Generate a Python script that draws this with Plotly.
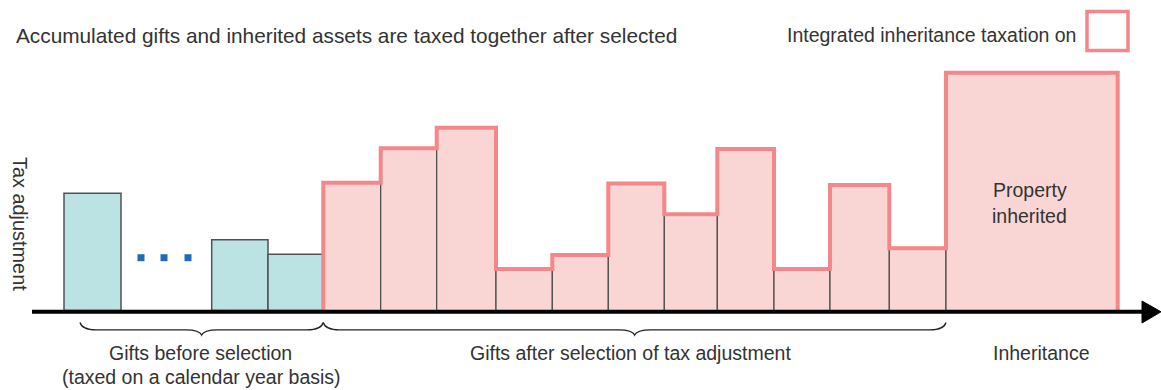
import plotly.graph_objects as go

# ---------------- data ----------------
# gifts before selection (calendar-year taxation)
pre_left = [64, 211.7, 268]
pre_right = [121, 268, 323.3]
pre_values = [117.2, 70.8, 56.2]

# gifts after selection of tax adjustment
post_edges = [323.3, 380.7, 436.7, 496, 552.3, 608.3, 664.3, 717.3, 774, 830, 889.3, 946]
post_values = [127.8, 162.2, 182.8, 41.5, 55.5, 127.0, 96.2, 161.5, 41.5, 125.5, 62.2]

# inheritance
inh_left = [946]
inh_right = [1117.7]
inh_values = [237.8]

# ellipsis dots
dot_x = [141, 164, 188]
dot_y = [52.8, 52.8, 52.8]

title_text = "Accumulated gifts and inherited assets are taxed together after selected"
legend_text = "Integrated inheritance taxation on"
y_label = "Tax adjustment"
group_labels = ["Gifts before selection", "(taxed on a calendar year basis)",
                "Gifts after selection of tax adjustment", "Inheritance"]
inh_label = ["Property", "inherited"]

# ---------------- styles ----------------
FONT = "Liberation Sans, Arial, Helvetica, sans-serif"
TXT = "#333333"
TEAL = "#bce3e4"
PINK_FILL = "#f9d6d4"
PINK_LINE = "#f3878a"
FS = 19.5

W, H = 1161, 390
BASE_PX = 310.5  # pixel row of value 0


def py(p):
    """pixel row -> y value"""
    return BASE_PX - p


fig = go.Figure()

# teal bars
fig.add_trace(go.Bar(
    x=[(l + r) / 2 for l, r in zip(pre_left, pre_right)],
    y=pre_values,
    width=[r - l for l, r in zip(pre_left, pre_right)],
    base=0,
    marker=dict(color=TEAL, line=dict(color="#4f5254", width=1.5)),
    hoverinfo="skip",
))

# pink bars (post-selection gifts)
post_left = post_edges[:-1]
post_right = post_edges[1:]
fig.add_trace(go.Bar(
    x=[(l + r) / 2 for l, r in zip(post_left, post_right)],
    y=post_values,
    width=[r - l for l, r in zip(post_left, post_right)],
    base=0,
    marker=dict(color=PINK_FILL, line=dict(color="#4a4a4a", width=1.2)),
    hoverinfo="skip",
))

# inheritance bar
fig.add_trace(go.Bar(
    x=[(l + r) / 2 for l, r in zip(inh_left, inh_right)],
    y=inh_values,
    width=[r - l for l, r in zip(inh_left, inh_right)],
    base=0,
    marker=dict(color=PINK_FILL, line=dict(color="#4a4a4a", width=1.2)),
    hoverinfo="skip",
))

# pink outline around the integrated area
all_left = post_left + inh_left
all_right = post_right + inh_right
all_vals = post_values + inh_values
ox = [all_left[0]]
oy = [0]
for l, r, v in zip(all_left, all_right, all_vals):
    ox += [l, r]
    oy += [v, v]
ox.append(all_right[-1])
oy.append(0)
fig.add_trace(go.Scatter(x=ox, y=oy, mode="lines",
                         line=dict(color=PINK_LINE, width=4),
                         hoverinfo="skip"))

# ellipsis dots
fig.add_trace(go.Scatter(x=dot_x, y=dot_y, mode="markers",
                         marker=dict(symbol="square", size=7, color="#1f6cbd"),
                         hoverinfo="skip"))

# axis line + arrow head
axis_y = py(311.8)
fig.add_trace(go.Scatter(x=[32, 1146], y=[axis_y, axis_y], mode="lines",
                         line=dict(color="black", width=4), hoverinfo="skip"))
fig.add_trace(go.Scatter(x=[1142, 1142, 1161, 1142], y=[py(301), py(323), axis_y, py(301)],
                         mode="lines", fill="toself", fillcolor="black",
                         line=dict(color="black", width=1), hoverinfo="skip"))


# braces
def brace(x0, x1, y_end, y_flat, y_tip):
    xm = (x0 + x1) / 2
    c = 16
    return (f"M {x0},{y_end} Q {x0+2},{y_flat} {x0+c},{y_flat} "
            f"L {xm-c},{y_flat} Q {xm-2},{y_flat} {xm},{y_tip} "
            f"Q {xm+2},{y_flat} {xm+c},{y_flat} "
            f"L {x1-c},{y_flat} Q {x1-2},{y_flat} {x1},{y_end}")


shapes = []
for (a, b) in [(80, 323.3), (323.3, 946)]:
    shapes.append(dict(type="path", xref="x", yref="y",
                       path=brace(a, b, py(322.5), py(329.8), py(335)),
                       line=dict(color="#222222", width=1.3)))

# legend box
shapes.append(dict(type="rect", xref="x", yref="y",
                   x0=1087, x1=1128, y0=py(11.5), y1=py(50.5),
                   fillcolor="white", line=dict(color=PINK_LINE, width=3.5)))

annotations = []


def txt(s, x, ypx, xanchor="center", angle=0, size=FS):
    annotations.append(dict(text=s, x=x, y=py(ypx), xref="x", yref="y",
                            xanchor=xanchor, yanchor="middle", showarrow=False,
                            textangle=angle,
                            font=dict(family=FONT, size=size, color=TXT)))


txt(title_text, 14, 35.0, xanchor="left", size=20.8)
txt(legend_text, 1078, 35.0, xanchor="right")
txt(y_label, 20, 224, angle=90, size=19.9)
txt(group_labels[0], 200, 352.5)
txt(group_labels[1], 201, 377)
txt(group_labels[2], 630, 352.5)
txt(group_labels[3], 1040.5, 352.5)
txt(inh_label[0], 1029.5, 189.5)
txt(inh_label[1], 1029.5, 215.5)

fig.update_layout(
    width=W, height=H,
    margin=dict(l=0, r=0, t=0, b=0),
    paper_bgcolor="white", plot_bgcolor="white",
    showlegend=False, barmode="overlay",
    xaxis=dict(range=[0, W], visible=False, fixedrange=True),
    yaxis=dict(range=[py(H), py(0)], visible=False, fixedrange=True),
    shapes=shapes, annotations=annotations,
)

fig.write_html("out.html", config={"displayModeBar": False})
